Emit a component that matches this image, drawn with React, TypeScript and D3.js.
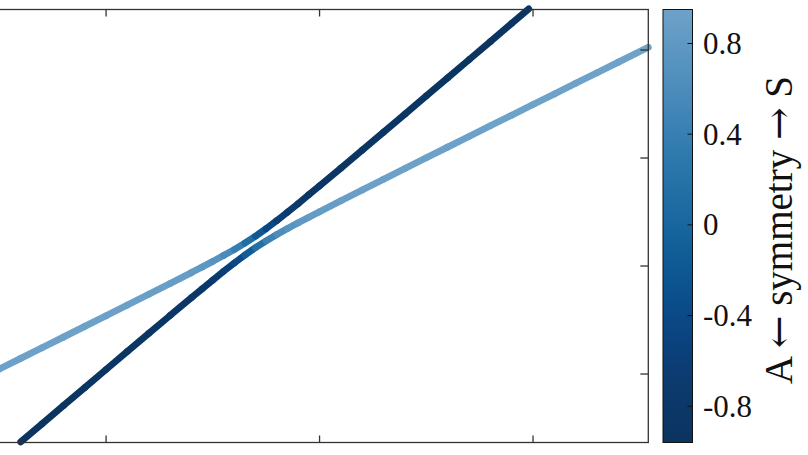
import * as d3 from "d3";

// two adiabatic branches, each point coloured by its symmetry value
const upperX = [0.4, 0.5, 0.6, 0.7, 0.8, 0.9, 1.0, 1.1, 1.2, 1.3, 1.4, 1.45, 1.5, 1.55, 1.6, 1.65, 1.7, 1.75, 1.8, 1.85, 1.9, 1.95, 2.0, 2.1, 2.2, 2.3, 2.4, 2.5, 2.6, 2.7, 2.8, 2.9, 2.98];
const upperY = [-0.052, 0.046, 0.145, 0.243, 0.342, 0.441, 0.54, 0.639, 0.738, 0.838, 0.939, 0.991, 1.043, 1.097, 1.152, 1.212, 1.276, 1.346, 1.421, 1.499, 1.578, 1.66, 1.742, 1.907, 2.073, 2.24, 2.407, 2.575, 2.742, 2.91, 3.078, 3.246, 3.38];
const upperSym = [0.944, 0.942, 0.941, 0.939, 0.937, 0.933, 0.928, 0.921, 0.908, 0.887, 0.845, 0.808, 0.75, 0.657, 0.505, 0.271, -0.031, -0.324, -0.541, -0.679, -0.764, -0.817, -0.851, -0.89, -0.91, -0.922, -0.929, -0.934, -0.937, -0.939, -0.941, -0.943, -0.943];

const lowerX = [0.6, 0.7, 0.8, 0.9, 1.0, 1.1, 1.2, 1.3, 1.4, 1.45, 1.5, 1.55, 1.6, 1.65, 1.7, 1.75, 1.8, 1.85, 1.9, 1.95, 2.0, 2.1, 2.2, 2.3, 2.4, 2.5, 2.6, 2.7, 2.8, 2.9, 3.0, 3.1, 3.2, 3.3, 3.4, 3.54];
const lowerY = [-0.629, -0.461, -0.293, -0.126, 0.042, 0.209, 0.376, 0.542, 0.707, 0.789, 0.87, 0.95, 1.027, 1.101, 1.17, 1.233, 1.292, 1.347, 1.4, 1.452, 1.503, 1.604, 1.704, 1.804, 1.903, 2.002, 2.101, 2.199, 2.298, 2.396, 2.495, 2.593, 2.692, 2.79, 2.888, 3.026];
const lowerSym = [-0.941, -0.939, -0.937, -0.933, -0.928, -0.921, -0.908, -0.887, -0.845, -0.808, -0.75, -0.657, -0.505, -0.271, 0.031, 0.324, 0.541, 0.679, 0.764, 0.817, 0.851, 0.89, 0.91, 0.922, 0.929, 0.934, 0.937, 0.939, 0.941, 0.943, 0.944, 0.945, 0.945, 0.946, 0.946, 0.947];

const xTicks = [1, 2, 3];
const yTicks = [0, 1, 2, 3];
const cbTicks = [0.8, 0.4, 0, -0.4, -0.8];
const cbTickLabels = ["0.8", "0.4", "0", "-0.4", "-0.8"];

// colormap
const colorStops = [-0.96, -0.67, -0.45, -0.23, 0.04, 0.32, 0.58, 0.95];
const colorValues = ["#0b3460", "#0b3b70", "#0a4583", "#0b5591", "#1a69a0", "#2f7aae", "#4a8bbb", "#6ea2c9"];

const FONT = "'Liberation Serif', 'Times New Roman', serif";
const ARROW_FONT = "'DejaVu Serif', serif";

export default function App() {
  const plot = { left: -22, right: 648.3, top: 9.5, bottom: 442.5 };
  const cb = { left: 663, right: 692.5, top: 9.5, bottom: 442.5 };

  const x = d3.scaleLinear().domain([0.4, 3.54]).range([plot.left, plot.right]);
  const y = d3.scaleLinear().domain([-0.634, 3.375]).range([plot.bottom, plot.top]);
  const color = d3
    .scaleLinear<string>()
    .domain(colorStops)
    .range(colorValues)
    .interpolate(d3.interpolateRgb)
    .clamp(true);
  const cbScale = d3.scaleLinear().domain([-0.96, 0.95]).range([cb.bottom, cb.top]);

  const branches = [
    { xs: upperX, ys: upperY, sym: upperSym },
    { xs: lowerX, ys: lowerY, sym: lowerSym },
  ];

  const gradStops = d3.range(0, 1.0001, 0.05).map((t) => {
    const v = -0.96 + t * 1.91;
    return { offset: t, color: color(v) };
  });

  return (
    <svg
      width={808}
      height={455}
      style={{ position: "absolute", left: 0, top: 0, background: "#fff" }}
    >
      <defs>
        <linearGradient id="cbgrad" x1="0" y1="1" x2="0" y2="0">
          {gradStops.map((s, i) => (
            <stop key={i} offset={s.offset} stopColor={s.color} />
          ))}
        </linearGradient>
      </defs>

      {/* branches */}
      {branches.map((b, bi) => (
        <g key={bi}>
          {b.xs.slice(1).map((_, i) => (
            <line
              key={i}
              x1={x(b.xs[i])}
              y1={y(b.ys[i])}
              x2={x(b.xs[i + 1])}
              y2={y(b.ys[i + 1])}
              stroke={color((b.sym[i] + b.sym[i + 1]) / 2)}
              strokeWidth={6.8}
              strokeLinecap="round"
            />
          ))}
        </g>
      ))}

      {/* frame */}
      <rect
        x={plot.left}
        y={plot.top}
        width={plot.right - plot.left}
        height={plot.bottom - plot.top}
        fill="none"
        stroke="#333"
        strokeWidth={1.3}
      />
      {xTicks.map((t) => (
        <g key={t} stroke="#333" strokeWidth={1.3}>
          <line x1={x(t)} x2={x(t)} y1={plot.top} y2={plot.top + 7} />
          <line x1={x(t)} x2={x(t)} y1={plot.bottom} y2={plot.bottom - 7} />
        </g>
      ))}
      {yTicks.map((t) => (
        <line
          key={t}
          x1={plot.right}
          x2={plot.right - 8}
          y1={y(t)}
          y2={y(t)}
          stroke="#333"
          strokeWidth={1.3}
        />
      ))}

      {/* colour bar */}
      <rect
        x={cb.left}
        y={cb.top}
        width={cb.right - cb.left}
        height={cb.bottom - cb.top}
        fill="url(#cbgrad)"
        stroke="#111"
        strokeWidth={1}
      />
      {cbTicks.map((t, i) => (
        <g key={t}>
          <line
            x1={cb.right}
            x2={cb.right - 5}
            y1={cbScale(t)}
            y2={cbScale(t)}
            stroke="#111"
            strokeWidth={1}
          />
          <text
            x={703}
            y={cbScale(t) + 10.5}
            fontFamily={FONT}
            fontSize={31}
            fill="#111"
          >
            {cbTickLabels[i]}
          </text>
        </g>
      ))}
      <text
        transform="translate(792,230) rotate(-90)"
        textAnchor="middle"
        fontFamily={FONT}
        fontSize={39}
        fill="#111"
      >
        A <tspan fontFamily={ARROW_FONT} fontWeight={300}>←</tspan> symmetry{" "}
        <tspan fontFamily={ARROW_FONT} fontWeight={300}>→</tspan> S
      </text>
    </svg>
  );
}
